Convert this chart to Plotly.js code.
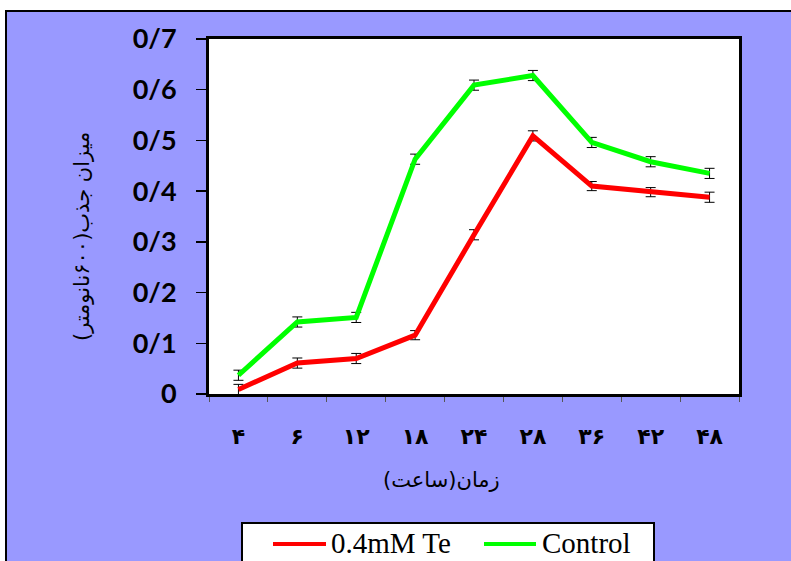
<!DOCTYPE html>
<html><head><meta charset="utf-8">
<script src="https://cdn.plot.ly/plotly-3.0.1.min.js"></script>
<style>
html,body{margin:0;padding:0;background:#fff;width:791px;height:561px;overflow:hidden;}
#chart{position:absolute;left:5px;top:10px;width:784px;height:549px;border-left:2px solid #000;border-top:2px solid #000;}
</style></head><body><div id="chart"></div>
<script>
const hours = ['۴','۶','۱۲','۱۸','۲۴','۲۸','۳۶','۴۲','۴۸'];
const teName = '0.4mM Te';
const teValues = [0.009,0.061,0.070,0.116,0.314,0.509,0.410,0.398,0.388];
const teErrors = [0.010,0.010,0.010,0.009,0.010,0.010,0.009,0.009,0.010];
const controlName = 'Control';
const controlValues = [0.037,0.142,0.151,0.463,0.609,0.628,0.496,0.458,0.435];
const controlErrors = [0.010,0.010,0.010,0.010,0.010,0.010,0.010,0.010,0.010];
const yTickValues = [0,0.1,0.2,0.3,0.4,0.5,0.6,0.7];
const yTickLabels = ['0','0/1','0/2','0/3','0/4','0/5','0/6','0/7'];
const xTitle = 'زمان(ساعت)';
const yTitle = 'میزان جذب(۶۰۰نانومتر)';
const teColor = '#FF0000', controlColor = '#00FF00';

function series(name, vals, errs, color){
  return {type:'scatter', mode:'lines', name:name, x:hours, y:vals,
    line:{color:color, width:5},
    error_y:{type:'data', array:errs, visible:true, color:'#000', thickness:1, width:5}};
}
const data = [series(teName, teValues, teErrors, teColor), series(controlName, controlValues, controlErrors, controlColor)];

// plot area in page pixels: x 209..739, y 39..394
const PX = p => (p-209)/530, PY = p => (394-p)/355;
const legendFont = {family:'Liberation Serif', size:29, color:'#000'};
const layout = {
  width:784, height:549,
  margin:{l:202, r:52, t:27, b:167, autoexpand:false},
  paper_bgcolor:'#9999FF', plot_bgcolor:'#FFFFFF',
  showlegend:false,
  xaxis:{type:'category', range:[-0.5,8.5], showline:true, linecolor:'#000', linewidth:3, mirror:true,
    ticks:'outside', tickson:'boundaries', ticklen:5, tickcolor:'#555', showgrid:false, zeroline:false,
    ticklabelstandoff:21,
    tickfont:{family:'DejaVu Sans', size:22, color:'#000', weight:'bold'}},
  yaxis:{range:[0,0.7], tickvals:yTickValues, ticktext:yTickLabels, showline:true, linecolor:'#000', linewidth:3, mirror:true,
    ticks:'outside', ticklen:10, tickcolor:'#000', tickwidth:1.5, showgrid:false, zeroline:false,
    ticklabelstandoff:14,
    tickfont:{family:'Lato', size:27, color:'#000', weight:'bold'}},
  shapes:[
    {type:'rect', xref:'paper', yref:'paper', x0:PX(242), x1:PX(654), y0:PY(590), y1:PY(523),
     fillcolor:'#FFFFFF', line:{color:'#000', width:2}},
    {type:'line', xref:'paper', yref:'paper', x0:PX(273), x1:PX(326), y0:PY(544), y1:PY(544),
     line:{color:teColor, width:4}},
    {type:'line', xref:'paper', yref:'paper', x0:PX(484), x1:PX(536), y0:PY(544), y1:PY(544),
     line:{color:controlColor, width:4}}
  ],
  annotations:[
    {xref:'paper', yref:'paper', x:PX(441), y:PY(480), xanchor:'center', yanchor:'middle', showarrow:false,
     text:xTitle, font:{family:'DejaVu Sans', size:21, color:'#000'}},
    {xref:'paper', yref:'paper', x:PX(82), y:PY(237), xanchor:'center', yanchor:'middle', showarrow:false, textangle:-90,
     text:yTitle, font:{family:'DejaVu Sans', size:21, color:'#000'}},
    {xref:'paper', yref:'paper', x:PX(329), y:PY(543), xanchor:'left', yanchor:'middle', showarrow:false,
     text:teName, font:legendFont},
    {xref:'paper', yref:'paper', x:PX(540), y:PY(543), xanchor:'left', yanchor:'middle', showarrow:false,
     text:controlName, font:legendFont}
  ]
};
Plotly.newPlot('chart', data, layout, {displayModeBar:false, staticPlot:true});
</script></body></html>
